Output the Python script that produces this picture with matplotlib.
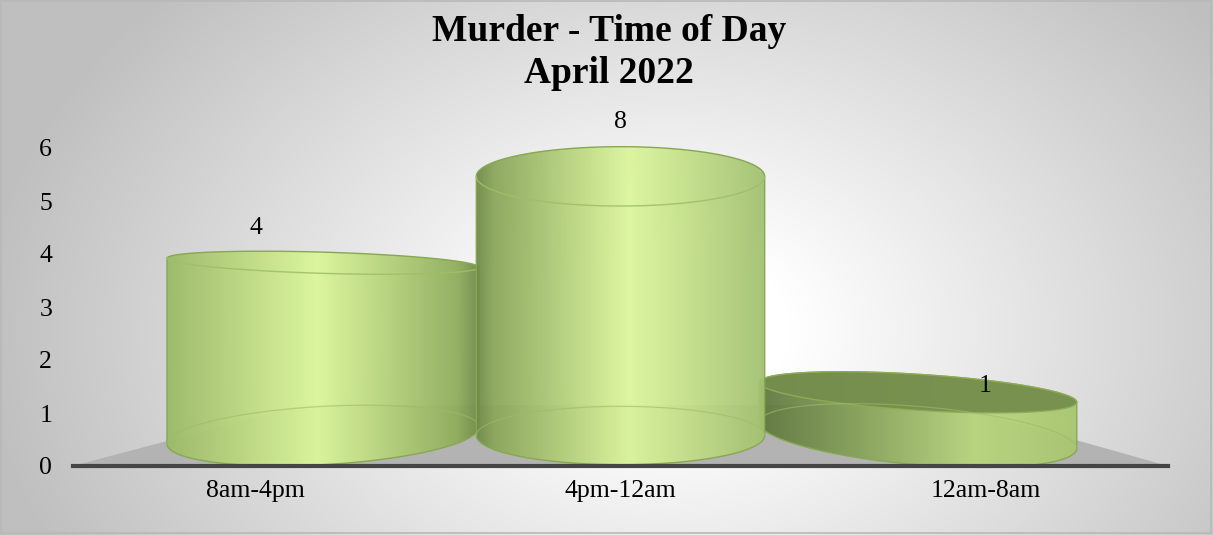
import numpy as np
import matplotlib
matplotlib.use("Agg")
import matplotlib.pyplot as plt
from matplotlib.colors import LinearSegmentedColormap
from matplotlib.path import Path
from matplotlib.patches import PathPatch, Polygon, Rectangle

# ---------------- data ----------------
categories = ["8am-4pm", "4pm-12am", "12am-8am"]
values = [4, 8, 1]
y_ticks = [0, 1, 2, 3, 4, 5, 6]
title_line1 = "Murder - Time of Day"
title_line2 = "April 2022"

# ---------------- style ----------------
W, H = 1213, 535
FONT = "Liberation Serif"
YMAX = 6
bar_width = [0.855, 0.79, 0.87]          # category units
persp = 0.185                             # horizontal convergence toward centre
depth_scale = 0.815                       # vertical scale of cylinder body
base_c, base_ry = 0.575, 0.55             # base ellipse centre / half-height
top_ry = [0.2, 0.56, 0.34]
top_shear = [-0.2, 0.0, -0.43]
base_shear = [0.37, 0.0, -0.56]
grad_stops = [
    [(0.0, "#9cba68"), (0.48, "#dcf79a"), (0.93, "#8fad5c"), (1.0, "#6f8a48")],
    [(0.0, "#6f8a48"), (0.06, "#8aa75a"), (0.53, "#dcf69c"), (1.0, "#a3c171")],
    [(0.0, "#5f783e"), (0.25, "#7f9a55"), (0.68, "#b9d67e"), (1.0, "#a9c670")],
]
top_face = [None, None, "#758e4d"]
draw_order = [0, 2, 1]

fig = plt.figure(figsize=(W / 100, H / 100), dpi=100)

# background radial gradient
bg = fig.add_axes([0, 0, 1, 1], zorder=0)
yy, xx = np.mgrid[0:H, 0:W]
r = np.sqrt(((xx - 670) / 600.0) ** 2 + ((yy - 330) / 430.0) ** 2)
shade = 1.0 - 0.25 * np.clip((r - 0.2) / 0.95, 0, 1)
bg.imshow(np.dstack([shade] * 3), extent=[0, W, H, 0], aspect="auto")
bg.set_xlim(0, W)
bg.set_ylim(H, 0)
bg.axis("off")
bg.add_patch(Rectangle((1, 1), W - 3, H - 3, fill=False, ec="#b8b8b8", lw=1.2))

# main axes
ax = fig.add_axes([73 / W, (H - 466) / H, 1095 / W, 318 / H], zorder=1)
ax.set_facecolor("none")
ax.set_xlim(-0.5, len(categories) - 0.5)
ax.set_ylim(0, YMAX)
for s in ["top", "right", "left"]:
    ax.spines[s].set_visible(False)
ax.spines["bottom"].set_color("#454545")
ax.spines["bottom"].set_linewidth(3)
ax.spines["bottom"].set_zorder(6)
ax.set_yticks(y_ticks)
ax.set_yticklabels([str(t) for t in y_ticks], fontsize=18.5, family=FONT)
ax.set_xticks(range(len(categories)))
ax.set_xticklabels(categories, fontsize=18.5, family=FONT)
ax.tick_params(axis="y", length=0, pad=15)
ax.tick_params(axis="x", length=0, pad=10)

# floor
px_x = 365.0
floor_back = 2 * base_c
ax.add_patch(Polygon([(-0.5, 0), (2.5, 0),
                      (2.5 - 216 / px_x, floor_back), (-0.5 + 229 / px_x, floor_back)],
                     closed=True, fc="#b3b3b3", ec="none", zorder=1))

theta = np.linspace(0, np.pi, 80)


def arc(cx, cy, rx, ry, sh, th):
    return np.column_stack([cx + rx * np.cos(th), cy + ry * np.sin(th) + sh * rx * np.cos(th)])


for i in draw_order:
    v = min(values[i], YMAX)
    cx = i + (1 - i) * persp
    rx = bar_width[i] / 2
    t = base_c + depth_scale * v
    z = 2 + (2 if i == 1 else 0)
    back_top = arc(cx, t, rx, top_ry[i], top_shear[i], theta)             # right->left
    front_base = arc(cx, base_c, rx, base_ry, base_shear[i], theta + np.pi)  # left->right
    verts = np.vstack([back_top, front_base, back_top[:1]])
    path = Path(verts, closed=True)
    patch = PathPatch(path, fc="none", ec="#86a852", lw=1.0, zorder=z + 0.5, clip_on=False)
    ax.add_patch(patch)
    cmap = LinearSegmentedColormap.from_list("c%d" % i, grad_stops[i])
    grad = np.linspace(0, 1, 256)[None, :]
    ymin, ymax = verts[:, 1].min(), verts[:, 1].max()
    im = ax.imshow(grad, cmap=cmap, extent=[cx - rx, cx + rx, ymin, ymax],
                   aspect="auto", zorder=z, alpha=0.95, interpolation="bilinear")
    im.set_clip_box(fig.bbox)
    im.set_clip_path(patch)
    # top face
    full_top = arc(cx, t, rx, top_ry[i], top_shear[i], np.linspace(0, 2 * np.pi, 160))
    if top_face[i]:
        ax.add_patch(Polygon(full_top, closed=True, fc=top_face[i], ec="#8cae58",
                             lw=1.0, alpha=0.95, zorder=z + 0.6, clip_on=False))
    else:
        fr = arc(cx, t, rx, top_ry[i], top_shear[i], theta + np.pi)
        ax.plot(fr[:, 0], fr[:, 1], color="#9fbf68", lw=1.0, alpha=0.9, zorder=z + 0.6,
                clip_on=False)
    # faint back edge of base seen through
    bb = arc(cx, base_c, rx, base_ry, base_shear[i], theta)
    ax.plot(bb[:, 0], bb[:, 1], color="#9dbb66", lw=0.9, alpha=0.6, zorder=z + 0.6)

for i, v in enumerate(values):
    ax.text(i, min(v, YMAX) + 0.5, str(v), ha="center", va="center",
            fontsize=18.5, family=FONT, zorder=10, clip_on=False)

ax.set_xlim(-0.5, len(categories) - 0.5)
ax.set_ylim(0, YMAX)

fig.text(609 / W, 1 - 41 / H, title_line1, ha="center", va="baseline",
         fontsize=27, fontweight="bold", family=FONT)
fig.text(609 / W, 1 - 83 / H, title_line2, ha="center", va="baseline",
         fontsize=27, fontweight="bold", family=FONT)

fig.savefig("out.png", dpi=100)
